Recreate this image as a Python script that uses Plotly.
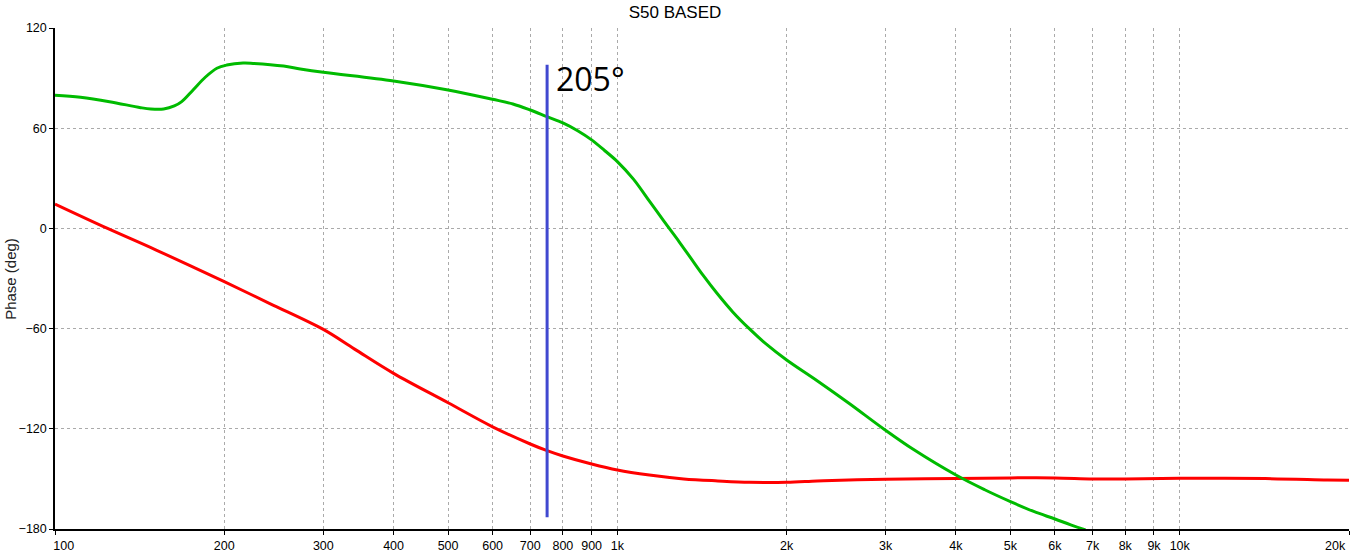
import math
import plotly.graph_objects as go

# frequency (Hz) / phase (deg)
green_freq = [100, 111, 125, 142, 148, 156, 163, 168, 176, 185, 194, 202, 216, 225, 255, 273, 300,
              400, 500, 600, 652, 700, 750, 800, 850, 900, 950, 1000, 1068, 1142, 1209, 1288, 1349,
              1420, 1505, 1604, 1718, 1838, 2000, 2266, 2581, 2993, 3358, 4000, 4500, 5000,
              5500, 6000, 6400, 6800]
green_phase = [79.7, 78.5, 75.9, 72.3, 71.5, 71.5, 73.3, 75.9, 82.9, 90.5, 95.9, 97.8, 99.0, 98.8,
               97.2, 95.5, 93.5, 88.3, 82.9, 77.3, 74.5, 70.9, 66.9, 63.2, 58.5, 53.0, 46.5, 40.0,
               29.5, 16.0, 4.5, -8.0, -17.5, -28.0, -39.0, -50.0, -60.2, -69.2, -78.8, -91.2,
               -104.7, -120.7, -132.3, -147.7, -156.5, -163.6, -169.5, -174.0, -177.5, -180.5]

red_freq = [100, 124, 151, 200, 241, 300, 341, 400, 500, 600, 700, 750, 800, 900, 1000, 1140,
            1312, 1509, 1718, 2000, 2266, 2581, 3000, 4000, 5000, 6000, 7000, 8000, 10000,
            14200, 18300, 20000]
red_phase = [14.6, 0.0, -12.8, -31.9, -45.0, -60.5, -72.3, -86.8, -104.4, -118.8, -129.1,
             -133.1, -136.3, -141.1, -144.7, -147.7, -150.0, -151.2, -152.0, -152.0, -151.2,
             -150.6, -150.2, -149.8, -149.4, -149.4, -150.0, -150.0, -149.6, -149.8, -150.6,
             -150.8]

marker_freq = [750, 750]
marker_phase = [98, -173]
marker_label = "205°"

tick_vals = [100, 200, 300, 400, 500, 600, 700, 800, 900, 1000, 2000, 3000, 4000, 5000,
             6000, 7000, 8000, 9000, 10000, 20000]
tick_text = ["\u00a0\u00a0\u00a0\u00a0\u00a0100", "200", "300", "400", "500", "600", "700", "800", "900",
             "1k", "2k", "3k", "4k", "5k", "6k", "7k", "8k", "9k", "10k",
             "20k\u00a0\u00a0\u00a0\u00a0\u00a0\u00a0\u00a0\u00a0"]

fig = go.Figure()
fig.add_trace(go.Scatter(x=red_freq, y=red_phase, mode="lines",
                         line=dict(color="#ff0000", width=3, shape="spline", smoothing=1)))
fig.add_trace(go.Scatter(x=green_freq, y=green_phase, mode="lines",
                         line=dict(color="#00bb00", width=3, shape="spline", smoothing=1)))
fig.add_trace(go.Scatter(x=marker_freq, y=marker_phase, mode="lines",
                         line=dict(color="#4048d0", width=3)))

fig.add_annotation(x=math.log10(marker_freq[0]), y=90, text=marker_label, showarrow=False,
                   xanchor="left", yanchor="middle", xshift=7,
                   font=dict(family="Open Sans", size=32, color="black"))
fig.add_annotation(x=-0.0345, y=0.5, xref="paper", yref="paper", text="Phase (deg)",
                   showarrow=False, textangle=-90, xanchor="center", yanchor="middle",
                   font=dict(family="Liberation Sans", size=15, color="#222"))

fig.update_layout(
    width=1350, height=554,
    template="none",
    showlegend=False,
    paper_bgcolor="white",
    plot_bgcolor="white",
    margin=dict(l=55, r=1, t=28, b=25, pad=0),
    title=dict(text="S50 BASED", x=0.5, xanchor="center", y=1 - 12 / 554, yanchor="middle",
               yref="container", font=dict(family="Liberation Sans", size=17, color="black")),
    font=dict(family="Liberation Sans", size=12.5, color="black"),
)
fig.update_xaxes(type="log", range=[2, math.log10(20000)], tickvals=tick_vals, ticktext=tick_text,
                 showgrid=True, gridcolor="#aaaaaa", griddash="3px,3px", gridwidth=1,
                 showline=True, linecolor="black", linewidth=1.5, ticks="outside", ticklen=4,
                 tickcolor="black", zeroline=False, automargin=False, ticklabeloverflow="allow")
fig.update_yaxes(range=[-180, 120], tickvals=[-180, -120, -60, 0, 60, 120],
                 showgrid=True, gridcolor="#aaaaaa", griddash="3px,3px", gridwidth=1,
                 showline=True, linecolor="black", linewidth=1.5, ticks="outside", ticklen=4,
                 tickcolor="black", zeroline=False, automargin=False)

# page body margin would shift the fixed-size figure
fig.write_html("out.html", config={"displayModeBar": False},
               post_script="document.body.style.margin='0';")
